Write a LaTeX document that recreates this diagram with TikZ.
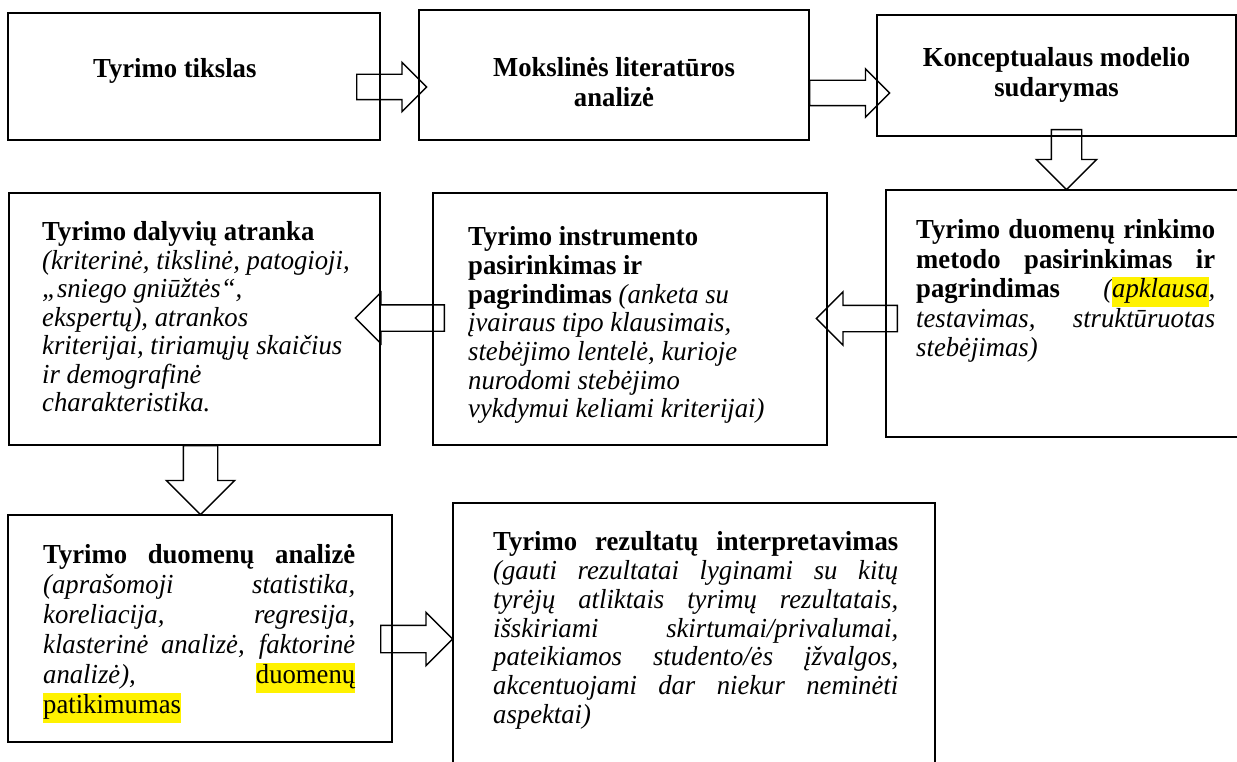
\documentclass[tikz,border=0pt]{standalone}
\usepackage{fontspec}
\setmainfont{Liberation Serif}[FakeStretch=0.97]
\usepackage{xcolor}
\usetikzlibrary{shapes.arrows}

\newcommand{\yhl}[1]{{\setlength{\fboxsep}{0pt}\colorbox{yellow}{\strut #1}}}
\newcommand{\jline}[2]{\makebox[#1][s]{#2}}

\begin{document}
\begin{tikzpicture}[x=1pt, y=-1pt,
    stepbox/.style={rectangle, draw=black, line width=1.5pt, inner sep=0pt},
    boxtext/.style={inner sep=0pt, align=left, anchor=north west, font=\fontsize{27.5}{#1}\selectfont},
    boxtext/.default=29,
    titletext/.style={inner sep=0pt, align=center, font=\fontsize{27.5}{30}\selectfont\bfseries},
    blockarrow/.style={single arrow, draw=black, line width=1.4pt, inner sep=#1, anchor=tail, single arrow tip angle=90},
]

% === CANVAS ===
\fill[white] (0,0) rectangle (1237,762);
\useasboundingbox (0,0) rectangle (1237,762);

% === ROW 1: goal, literature, model ===
\node[stepbox, minimum width=372, minimum height=127] (tikslas)    at (194,76.5)   {};
\node[stepbox, minimum width=390, minimum height=130] (literatura) at (614,75)     {};
\node[stepbox, minimum width=359, minimum height=121] (modelis)    at (1056.5,75.5) {};

\node[anchor=base west, inner sep=0pt, font=\fontsize{27.5}{30}\selectfont\bfseries] (tikslasT) at (93,78) {Tyrimo tikslas};
\node[titletext, anchor=north] (literaturaT) at (614,57.5)    {Mokslinės literatūros\\analizė};
\node[titletext, anchor=north] (modelisT)    at (1056.5,47.5) {Konceptualaus modelio\\sudarymas};

% === ROW 2: sample, instrument, method ===
\node[stepbox, minimum width=371, minimum height=252] (atranka)      at (194.5,319) {};
\node[stepbox, minimum width=394, minimum height=252] (instrumentas) at (630,319)   {};
\node[stepbox, minimum width=354, minimum height=247] (rinkimas)     at (1063,313.5) {};

\node[boxtext=28.5] (atrankaT) at (42,221.5) {\textbf{Tyrimo dalyvių atranka}\\
\textit{(kriterinė, tikslinė, patogioji,}\\
\textit{„sniego gniūžtės“,}\\
\textit{ekspertų), atrankos}\\
\textit{kriterijai, tiriamųjų skaičius}\\
\textit{ir demografinė}\\
\textit{charakteristika.}};

\node[boxtext=28.7] (instrumentasT) at (468,226.5) {\textbf{Tyrimo instrumento}\\
\textbf{pasirinkimas ir}\\
\textbf{pagrindimas} \textit{(anketa su}\\
\textit{įvairaus tipo klausimais,}\\
\textit{stebėjimo lentelė, kurioje}\\
\textit{nurodomi stebėjimo}\\
\textit{vykdymui keliami kriterijai)}};

\node[boxtext=29.5] (rinkimasT) at (916,219.5) {\jline{299pt}{\textbf{Tyrimo duomenų rinkimo}}\\
\jline{299pt}{\textbf{metodo pasirinkimas ir}}\\
\jline{299pt}{\textbf{pagrindimas} \textit{(\yhl{apklausa},}}\\
\jline{299pt}{\textit{testavimas, struktūruotas}}\\
\textit{stebėjimas)}};

% === ROW 3: analysis, interpretation ===
\node[stepbox, minimum width=384, minimum height=227] (analize)         at (200,628.5) {};
\node[stepbox, minimum width=482, minimum height=272] (interpretavimas) at (694,639)   {};

\node[boxtext=30] (analizeT) at (43,544.5) {\jline{312pt}{\textbf{Tyrimo duomenų analizė}}\\
\jline{312pt}{\textit{(aprašomoji statistika,}}\\
\jline{312pt}{\textit{koreliacija, regresija,}}\\
\jline{312pt}{\textit{klasterinė analizė, faktorinė}}\\
\jline{312pt}{\textit{analizė),} \yhl{duomenų}}\\
\yhl{patikimumas}};

\node[boxtext=28.8] (interpretavimasT) at (493,531.5) {\jline{405pt}{\textbf{Tyrimo rezultatų interpretavimas}}\\
\jline{405pt}{\textit{(gauti rezultatai lyginami su kitų}}\\
\jline{405pt}{\textit{tyrėjų atliktais tyrimų rezultatais,}}\\
\jline{405pt}{\textit{išskiriami skirtumai/privalumai,}}\\
\jline{405pt}{\textit{pateikiamos studento/ės įžvalgos,}}\\
\jline{405pt}{\textit{akcentuojami dar niekur neminėti}}\\
\textit{aspektai)}};

% === BLOCK ARROWS ===
\node[blockarrow=12,   single arrow head extend=12,   minimum height=70]                          (a1) at (356,87)     {};
\node[blockarrow=12,   single arrow head extend=11.5, minimum height=80]                          (a2) at (809,93)     {};
\node[blockarrow=14.5, single arrow head extend=15,   minimum height=60, shape border rotate=270] (a3) at (1066.5,129) {};
\node[blockarrow=12.5, single arrow head extend=13.5, minimum height=81, shape border rotate=180] (a4) at (898,318.5)  {};
\node[blockarrow=12.5, single arrow head extend=12.5, minimum height=89, shape border rotate=180] (a5) at (445,318)    {};
\node[blockarrow=16.5, single arrow head extend=17,   minimum height=69, shape border rotate=270] (a6) at (200.5,445)  {};
\node[blockarrow=13,   single arrow head extend=13,   minimum height=72]                          (a7) at (380,639)    {};

\end{tikzpicture}
\end{document}
